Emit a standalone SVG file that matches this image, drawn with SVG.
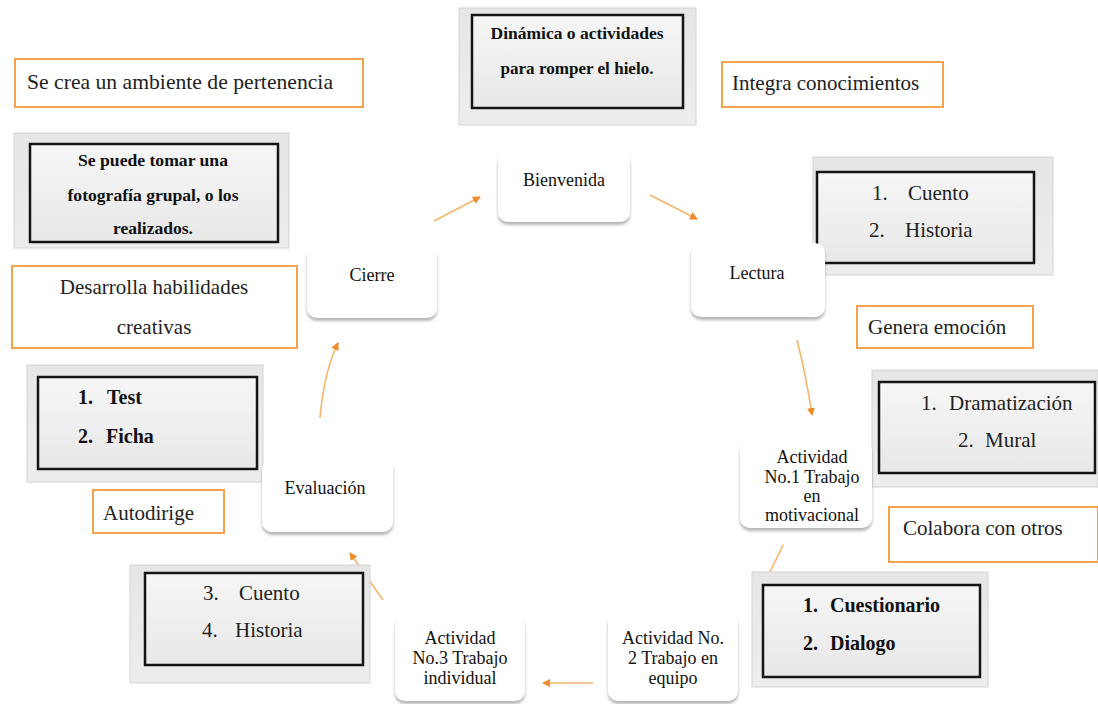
<svg xmlns="http://www.w3.org/2000/svg" width="1098" height="704" viewBox="0 0 1098 704">
<style>
.ob{fill:#fff;stroke:#f4a24c;stroke-width:2}
.ot{font-family:"Liberation Serif",serif;font-size:21px;fill:#222}
.nd{fill:#fff;filter:url(#sh)}
.nt{font-family:"Liberation Serif",serif;font-size:18px;fill:#111;text-anchor:middle}
.go{fill:url(#gg);stroke:#d4d4d4;stroke-width:1}
.gi{fill:url(#gi);stroke:#151515;stroke-width:2.5}
.gt{font-family:"Liberation Serif",serif;font-size:21px;fill:#222}
.gb{font-family:"Liberation Serif",serif;font-size:20px;font-weight:bold;fill:#111}
.gs{font-family:"Liberation Serif",serif;font-size:17px;font-weight:bold;fill:#111;text-anchor:middle}
.cn{fill:none;stroke:#f7b46c;stroke-width:1.6}
</style>
<defs>
<linearGradient id="gg" x1="0" y1="0" x2="0" y2="1"><stop offset="0" stop-color="#e6e6e6"/><stop offset="1" stop-color="#ededed"/></linearGradient>
<linearGradient id="gi" x1="0" y1="0" x2="0" y2="1"><stop offset="0" stop-color="#f6f6f6"/><stop offset="1" stop-color="#e8e8e8"/></linearGradient>
<filter id="sh" x="-10%" y="-10%" width="120%" height="130%"><feDropShadow dx="0" dy="3" stdDeviation="1.8" flood-color="#777" flood-opacity="0.55"/></filter>
<marker id="ah" markerWidth="9" markerHeight="9" refX="7" refY="4" orient="auto" markerUnits="userSpaceOnUse"><path d="M0,0 L8,4 L0,8 Z" fill="#f08a2a"/></marker>
</defs>
<rect width="1098" height="704" fill="#fff"/>

<g id="connectors">
<path class="cn" d="M434,221 L480,197" marker-end="url(#ah)"/>
<path class="cn" d="M650,195 L697,219" marker-end="url(#ah)"/>
<path class="cn" d="M797,340 Q806,375 812,415" marker-end="url(#ah)"/>
<path class="cn" d="M783,545 L770,572"/>
<path class="cn" d="M593,683 L543,683" marker-end="url(#ah)"/>
<path class="cn" d="M383,600 L350,553" marker-end="url(#ah)"/>
<path class="cn" d="M320,418 Q324,372 338,343" marker-end="url(#ah)"/>
</g>

<g id="note-pertenencia"><rect class="ob" x="15" y="59" width="348" height="48"/><text class="ot" x="27" y="89" textLength="306" lengthAdjust="spacingAndGlyphs">Se crea un ambiente de pertenencia</text></g>
<g id="box-foto"><rect class="go" x="14" y="133" width="275" height="115"/><rect class="gi" x="30" y="144" width="248" height="98"/>
<text class="gs" x="153" y="166" textLength="150" lengthAdjust="spacingAndGlyphs">Se puede tomar una</text>
<text class="gs" x="153" y="201" textLength="171" lengthAdjust="spacingAndGlyphs">fotografía grupal, o los</text>
<text class="gs" x="153" y="234" textLength="80" lengthAdjust="spacingAndGlyphs">realizados.</text></g>
<g id="note-creativas"><rect class="ob" x="12" y="266" width="285" height="82"/><text class="ot" x="154" y="294" text-anchor="middle">Desarrolla habilidades</text><text class="ot" x="154" y="334" text-anchor="middle">creativas</text></g>
<g id="box-test"><rect class="go" x="27" y="365" width="236" height="117"/><rect class="gi" x="38" y="377" width="219" height="92"/>
<text class="gb" x="78" y="404">1.</text><text class="gb" x="107" y="404">Test</text><text class="gb" x="78" y="443">2.</text><text class="gb" x="106" y="443">Ficha</text></g>
<g id="note-autodirige"><rect class="ob" x="93" y="490" width="131" height="43"/><text class="ot" x="103" y="520">Autodirige</text></g>
<g id="box-cuento2"><rect class="go" x="130" y="565" width="240" height="118"/><rect class="gi" x="145" y="573" width="218" height="92"/>
<text class="gt" x="203" y="600">3.</text><text class="gt" x="239" y="600">Cuento</text><text class="gt" x="202" y="637">4.</text><text class="gt" x="235" y="637">Historia</text></g>

<g id="box-dinamica"><rect class="go" x="459" y="8" width="237" height="117"/><rect class="gi" x="472" y="15" width="211" height="93"/>
<text class="gs" x="577" y="39" font-size="18" textLength="173" lengthAdjust="spacingAndGlyphs">Dinámica o actividades</text>
<text class="gs" x="577" y="74" font-size="18" textLength="153" lengthAdjust="spacingAndGlyphs">para romper el hielo.</text></g>
<g id="note-integra"><rect class="ob" x="722" y="62" width="221" height="45"/><text class="ot" x="732" y="90">Integra conocimientos</text></g>
<g id="box-cuento1"><rect class="go" x="813" y="157" width="240" height="118"/><rect class="gi" x="817" y="172" width="217" height="91"/>
<text class="gt" x="872" y="200">1.</text><text class="gt" x="908" y="200">Cuento</text><text class="gt" x="869" y="237">2.</text><text class="gt" x="905" y="237">Historia</text></g>
<g id="note-emocion"><rect class="ob" x="857" y="306" width="176" height="42"/><text class="ot" x="868" y="334">Genera emoción</text></g>
<g id="box-drama"><rect class="go" x="872" y="370" width="226" height="117"/><rect class="gi" x="879" y="382" width="216" height="91"/>
<text class="gt" x="921" y="410">1.</text><text class="gt" x="949" y="410">Dramatización</text><text class="gt" x="958" y="447">2.</text><text class="gt" x="985" y="447">Mural</text></g>
<g id="note-colabora"><rect class="ob" x="889" y="507" width="209" height="55"/><text class="ot" x="903" y="535">Colabora con otros</text></g>
<g id="box-cuestionario"><rect class="go" x="752" y="572" width="236" height="115"/><rect class="gi" x="763" y="585" width="217" height="92"/>
<text class="gb" x="803" y="612">1.</text><text class="gb" x="830" y="612">Cuestionario</text><text class="gb" x="803" y="650">2.</text><text class="gb" x="830" y="650">Dialogo</text></g>

<g id="node-bienvenida"><rect class="nd" x="498" y="151" width="132" height="71" rx="10"/><text class="nt" x="564" y="186">Bienvenida</text></g>
<g id="node-lectura"><rect class="nd" x="691" y="243" width="134" height="74" rx="10"/><text class="nt" x="757" y="279">Lectura</text></g>
<g id="node-act1"><rect class="nd" x="740" y="440" width="132" height="88" rx="10"/>
<text class="nt" x="812" y="463">Actividad</text><text class="nt" x="812" y="483">No.1 Trabajo</text><text class="nt" x="812" y="502">en</text><text class="nt" x="812" y="521">motivacional</text></g>
<g id="node-act2"><rect class="nd" x="608" y="613" width="130" height="88" rx="10"/>
<text class="nt" x="673" y="644">Actividad No.</text><text class="nt" x="673" y="664">2 Trabajo en</text><text class="nt" x="673" y="684">equipo</text></g>
<g id="node-act3"><rect class="nd" x="395" y="615" width="130" height="86" rx="10"/>
<text class="nt" x="460" y="644">Actividad</text><text class="nt" x="460" y="664">No.3 Trabajo</text><text class="nt" x="460" y="684">individual</text></g>
<g id="node-evaluacion"><rect class="nd" x="262" y="459" width="131" height="73" rx="10"/><text class="nt" x="325" y="494">Evaluación</text></g>
<g id="node-cierre"><rect class="nd" x="307" y="246" width="130" height="72" rx="10"/><text class="nt" x="372" y="281">Cierre</text></g>
</svg>
